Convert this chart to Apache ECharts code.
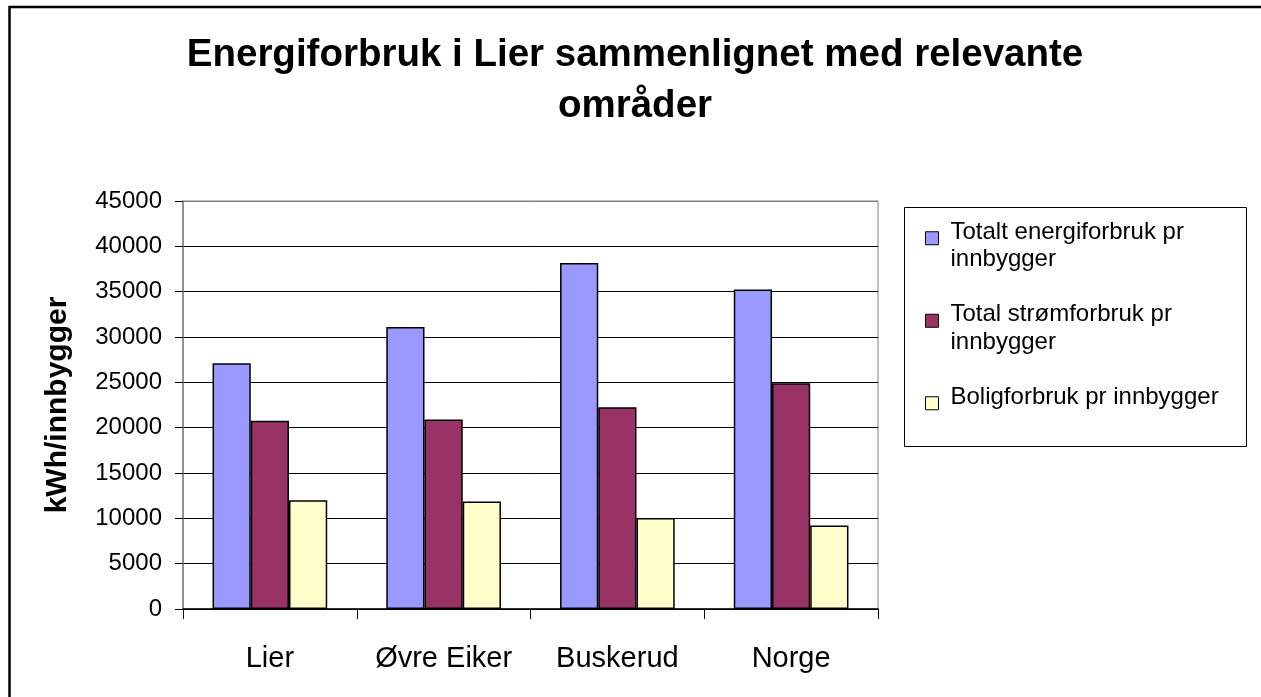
<!DOCTYPE html>
<html>
<head>
<meta charset="utf-8">
<script src="https://cdn.jsdelivr.net/npm/echarts@6/dist/echarts.min.js"></script>
<style>
html,body{margin:0;padding:0;background:#fff;}
#c{width:1261px;height:697px;}
</style>
</head>
<body>
<div id="c"></div>
<script>
const titleText = 'Energiforbruk i Lier sammenlignet med relevante\nområder';
const yAxisTitle = 'kWh/innbygger';
const categories = ['Lier', 'Øvre Eiker', 'Buskerud', 'Norge'];
const seriesNames = ['Totalt energiforbruk pr innbygger', 'Total strømforbruk pr innbygger', 'Boligforbruk pr innbygger'];
const legendLines = [['Totalt energiforbruk pr', 'innbygger'], ['Total strømforbruk pr', 'innbygger'], ['Boligforbruk pr innbygger']];
const totalEnergi = [27100, 31100, 38150, 35250];
const totalStrom = [20750, 20900, 22250, 24900];
const boligForbruk = [12000, 11850, 10050, 9200];
const seriesValues = [totalEnergi, totalStrom, boligForbruk];
const seriesColors = ['#9999FF', '#993366', '#FFFFCC'];

const FONT = '"Liberation Sans", Arial, sans-serif';
const chart = echarts.init(document.getElementById('c'), null, {renderer: 'canvas'});

const splitColors = [];
for (let i = 0; i < 10; i++) splitColors.push(i === 9 ? '#808080' : '#000000');

function legendFormatter(name) {
  const lines = legendLines[seriesNames.indexOf(name)];
  let out = '{s| }';
  lines.forEach(function (l) { out += '\n{t|' + l + '}'; });
  if (lines.length === 1) out += '\n{e| }';
  return out;
}

const option = {
  backgroundColor: '#ffffff',
  animation: false,
  title: {
    text: titleText,
    left: 635,
    textAlign: 'center',
    top: 30,
    padding: 0,
    textStyle: {fontFamily: FONT, fontSize: 38.5, fontWeight: 'bold', color: '#000', lineHeight: 51}
  },
  grid: {
    left: 183, right: 383, top: 201, bottom: 88,
    show: true, borderColor: '#808080', borderWidth: 1, backgroundColor: 'transparent'
  },
  legend: {
    orient: 'vertical',
    left: 925,
    top: 203,
    padding: 0,
    itemGap: 12,
    itemWidth: 13,
    itemHeight: 13,
    icon: 'rect',
    itemStyle: {borderColor: '#000', borderWidth: 1},
    formatter: legendFormatter,
    textStyle: {
      fontFamily: FONT, fontSize: 24, color: '#000', lineHeight: 27.5,
      rich: {
        s: {fontFamily: FONT, fontSize: 2, lineHeight: 15.5},
        e: {fontFamily: FONT, fontSize: 2, lineHeight: 27.5},
        t: {fontFamily: FONT, fontSize: 24, color: '#000', lineHeight: 27.5, padding: [0, 0, 0, 7]}
      }
    },
    data: seriesNames.slice()
  },
  graphic: [
    {type: 'rect', z: -1, silent: true, shape: {x: 9.5, y: 7, width: 1400, height: 900},
     style: {fill: 'none', stroke: '#000', lineWidth: 2.5}},
    {type: 'rect', z: -1, silent: true, shape: {x: 904.5, y: 207.5, width: 342, height: 239},
     style: {fill: 'none', stroke: '#000', lineWidth: 1}}
  ],
  xAxis: {
    type: 'category',
    data: categories,
    axisLine: {show: true, lineStyle: {color: '#000', width: 1.5}},
    axisTick: {show: true, alignWithLabel: false, length: 10, lineStyle: {color: '#000', width: 1}},
    axisLabel: {fontFamily: FONT, fontSize: 29, color: '#000', margin: 35, interval: 0},
    splitLine: {show: false}
  },
  yAxis: {
    type: 'value',
    min: 0, max: 45000, interval: 5000,
    name: yAxisTitle,
    nameLocation: 'middle',
    nameGap: 110,
    nameRotate: 90,
    nameTextStyle: {fontFamily: FONT, fontSize: 30, fontWeight: 'bold', color: '#000'},
    axisLine: {show: true, lineStyle: {color: '#808080', width: 1.5}},
    axisTick: {show: true, length: 8, lineStyle: {color: '#000', width: 1}},
    axisLabel: {fontFamily: FONT, fontSize: 24, color: '#000', margin: 21,
      formatter: function (v) { return String(v); }},
    splitLine: {show: true, lineStyle: {color: splitColors, width: 1}}
  },
  series: seriesNames.map(function (n, i) {
    return {
      name: n,
      type: 'bar',
      data: seriesValues[i],
      barGap: '0%',
      barCategoryGap: '34%',
      itemStyle: {color: seriesColors[i], borderColor: '#000', borderWidth: 1.5},
      emphasis: {disabled: true}
    };
  })
};
chart.setOption(option);
</script>
</body>
</html>
